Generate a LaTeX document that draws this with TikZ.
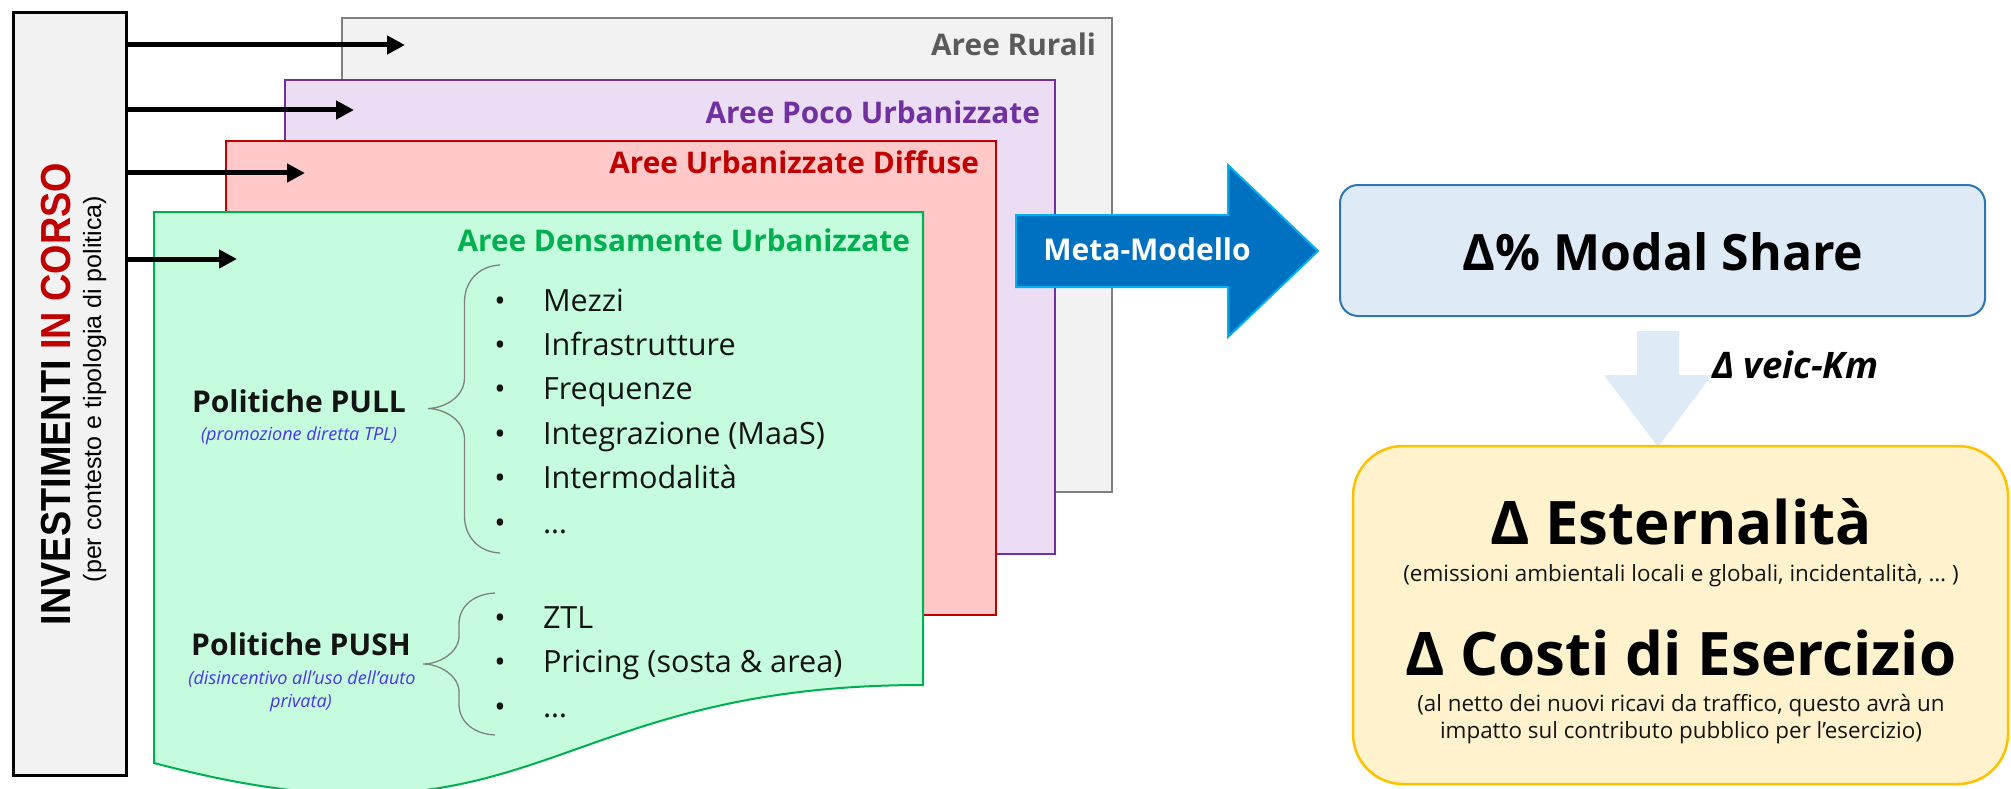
\documentclass[tikz,border=0pt]{standalone}
\usepackage{fontspec}
\setmainfont{Open Sans}
\newfontfamily\arialfont{Liberation Sans}
\newfontfamily\arialcond[FakeStretch=0.9]{Liberation Sans}
\usetikzlibrary{arrows.meta}
\definecolor{lbfill}{HTML}{F2F2F2}
\definecolor{rurline}{HTML}{7F7F7F}
\definecolor{rurfill}{HTML}{F2F2F2}
\definecolor{rurtxt}{HTML}{5A5A5A}
\definecolor{pocline}{HTML}{7030A0}
\definecolor{pocfill}{HTML}{EADDF4}
\definecolor{difline}{HTML}{C00000}
\definecolor{diffill}{HTML}{FFC9C9}
\definecolor{denline}{HTML}{00B050}
\definecolor{denfill}{HTML}{C6FCDE}
\definecolor{metafill}{HTML}{0070C0}
\definecolor{metaline}{HTML}{00B0F0}
\definecolor{msfill}{HTML}{DEEBF7}
\definecolor{msline}{HTML}{2E75B6}
\definecolor{exfill}{HTML}{FFF2CC}
\definecolor{exline}{HTML}{FFC000}
\definecolor{bluetxt}{HTML}{4A33F0}
\definecolor{bracegray}{HTML}{808080}
\definecolor{darktxt}{HTML}{141414}
\begin{document}
\begin{tikzpicture}[x=1pt,y=-1pt,
  every node/.style={inner sep=0pt, outer sep=0pt},
  areabox/.style={draw, line width=2pt, minimum width=770pt, minimum height=474pt, anchor=north west},
  areattl/.style={anchor=base east, font=\fontsize{29.8}{34}\selectfont\bfseries},
  inarrow/.style={line width=5pt, -{Triangle[length=18pt,width=18pt]}},
  bracestyle/.style={draw=bracegray, line width=1.3pt},
  bul/.style={anchor=base, font=\fontsize{30}{34}\selectfont, text=darktxt},
  item/.style={anchor=base west, font=\fontsize{30.6}{36}\selectfont, text=darktxt},
  polttl/.style={anchor=base, font=\fontsize{30}{36}\selectfont\bfseries, text=darktxt},
  polsub/.style={anchor=base, font=\fontsize{18}{21}\selectfont\itshape, text=bluetxt},
  bigtxt/.style={anchor=base, font=\fontsize{60}{70}\selectfont\bfseries},
  smalltxt/.style={anchor=base, font=\fontsize{22.4}{26}\selectfont, text=darktxt}]
\useasboundingbox (0,0) rectangle (2011,789);

% left box
\node[draw=black, fill=lbfill, line width=3pt, minimum width=113pt, minimum height=762pt] (lb) at (69.5,394) {};
\node[rotate=90, anchor=base, font=\arialcond\fontsize{42}{48}\selectfont\bfseries] (lbt) at (70,394)
  {INVESTIMENTI {\color{difline}IN CORSO}};
\node[rotate=90, anchor=base, font=\arialfont\fontsize{25}{30}\selectfont] (lbs) at (101,389)
  {(per contesto e tipologia di politica)};

% area boxes
\node[areabox, draw=rurline, fill=rurfill] (rur) at (342,18) {};
\node[areabox, draw=pocline, fill=pocfill] (poc) at (285,80) {};
\node[areabox, draw=difline, fill=diffill] (dif) at (226,141) {};
\filldraw[fill=denfill, draw=denline, line width=2pt] (154,212) -- (923,212) -- (923,685)
  .. controls (538.5,685) and (538.5,865) .. (154,763) -- cycle;

\node[areattl, text=rurtxt] (trur) at (1096,56) {Aree Rurali};
\node[areattl, text=pocline] (tpoc) at (1040,124) {Aree Poco Urbanizzate};
\node[areattl, text=difline] (tdif) at (979,174) {Aree Urbanizzate Diffuse};
\node[areattl, text=denline] (tden) at (910,251) {Aree Densamente Urbanizzate};

% input arrows
\coordinate (a1) at (405,45);
\coordinate (a2) at (354,110);
\coordinate (a3) at (305,173);
\coordinate (a4) at (237,259);
\foreach \c in {a1,a2,a3,a4} \draw[inarrow] (lb.east |- \c) -- (\c);

% PULL
\node[polttl] (pull) at (299,412) {Politiche PULL};
\node[polsub] (pulls) at (299,440) {(promozione diretta TPL)};
\draw[bracestyle] (500,265) .. controls (478,266) and (464.5,282) .. (464.5,302) -- (464.5,378)
  .. controls (464.5,396) and (446,408) .. (428,408.5)
  .. controls (446,409) and (464.5,421) .. (464.5,439) -- (464.5,516)
  .. controls (464.5,536) and (478,552) .. (500,553);
\foreach \t [count=\i from 0] in {Mezzi,Infrastrutture,Frequenze,Integrazione (MaaS),Intermodalità,…}{
  \node[bul] (pb\i) at (500,{311+44.4*\i}) {•};
  \node[item] (pi\i) at (543,{311+44.4*\i}) {\t};
}

% PUSH
\node[polttl] (push) at (301,655) {Politiche PUSH};
\node[polsub] (pushs1) at (302,684) {(disincentivo all’uso dell’auto};
\node[polsub] (pushs2) at (301,707) {privata)};
\draw[bracestyle] (495,593) .. controls (474,594) and (459,606) .. (459,624) -- (459,636)
  .. controls (459,652) and (440,664) .. (423,664)
  .. controls (440,664) and (459,676) .. (459,692) -- (459,704)
  .. controls (459,722) and (474,734) .. (495,735);
\foreach \t/\y [count=\i] in {ZTL/628,Pricing (sosta \& area)/672.5,…/717}{
  \node[bul] (sb\i) at (500,\y) {•};
  \node[item] (si\i) at (543,\y) {\t};
}

% Meta-Modello arrow
\filldraw[fill=metafill, draw=metaline, line width=2pt]
  (1016,215) -- (1228,215) -- (1228,165) -- (1318,251) -- (1228,337) -- (1228,287) -- (1016,287) -- cycle;
\node[anchor=base, text=white, font=\fontsize{30}{34}\selectfont\bfseries] (meta) at (1147,260) {Meta-Modello};

% Modal share
\node[draw=msline, fill=msfill, line width=2pt, rounded corners=18pt, minimum width=645pt, minimum height=131pt] (ms) at (1662.5,250.5) {};
\node[anchor=base, font=\fontsize{50}{60}\selectfont\bfseries] (mst) at (1663,270) {Δ\% Modal Share};

% down arrow
\fill[msfill] (1637,331) -- (1679,331) -- (1679,375) -- (1712,375) -- (1658,447) -- (1604,375) -- (1637,375) -- cycle;
\node[anchor=base west, font=\fontsize{36.5}{42}\selectfont\bfseries\itshape] (vk) at (1712,378) {Δ veic-Km};

% Externalities box
\node[draw=exline, fill=exfill, line width=2.5pt, rounded corners=50pt, minimum width=655pt, minimum height=338pt] (ext) at (1680.5,615) {};
\node[bigtxt] (e1) at (1681,544) {Δ Esternalità};
\node[smalltxt] (e2) at (1681,581) {(emissioni ambientali locali e globali, incidentalità, … )};
\node[bigtxt] (e3) at (1681,675) {Δ Costi di Esercizio};
\node[smalltxt] (e4) at (1681,711) {(al netto dei nuovi ricavi da traffico, questo avrà un};
\node[smalltxt] (e5) at (1681,738) {impatto sul contributo pubblico per l’esercizio)};
\end{tikzpicture}
\end{document}
